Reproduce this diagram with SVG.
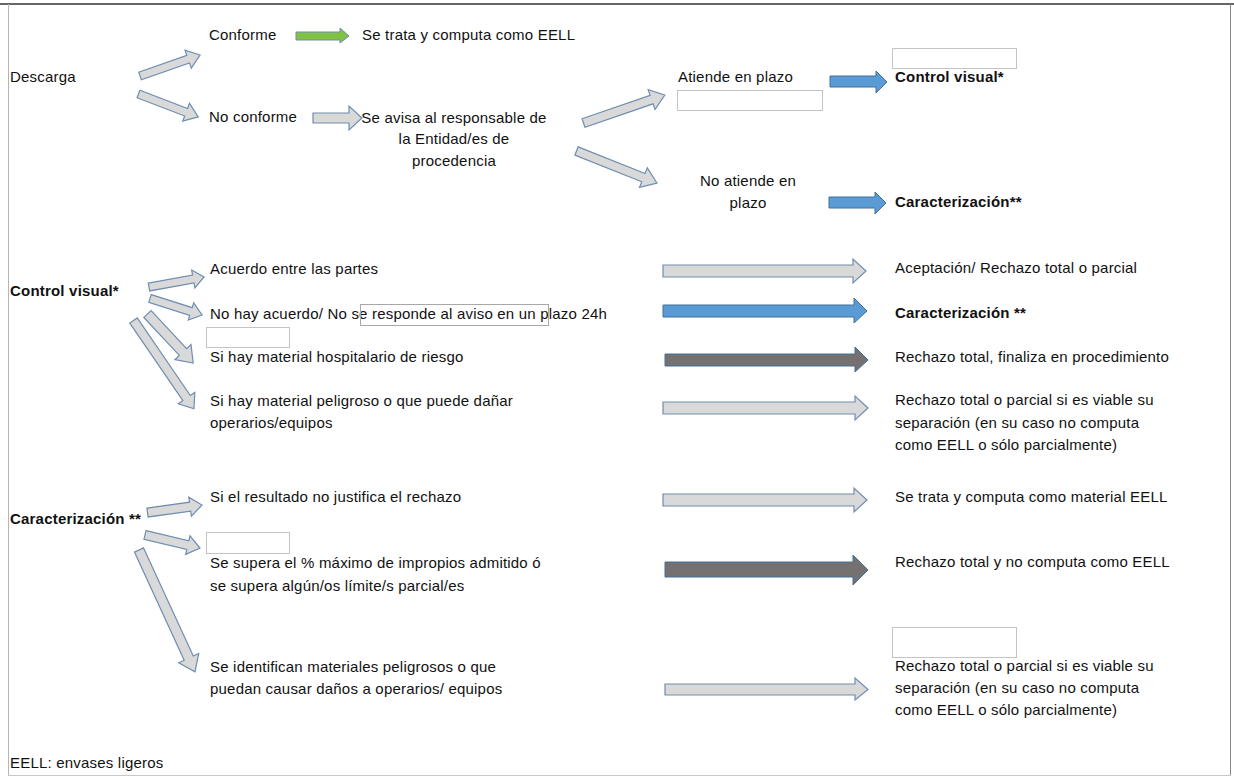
<svg xmlns="http://www.w3.org/2000/svg" width="1234" height="776" viewBox="0 0 1234 776">
<style>
text{font-family:"Liberation Sans",Arial,sans-serif;font-size:15px;letter-spacing:0.2px;fill:#111}
.b{font-weight:bold}
.m{text-anchor:middle}
.box{fill:#fff;stroke:#c4c4c4;stroke-width:1}
.g{fill:#d9d9d9;stroke:#6f8db0;stroke-width:1.2}
.bl{fill:#5b9bd5;stroke:#41719c;stroke-width:1}
.dk{fill:#767171;stroke:#41719c;stroke-width:1}
.gr{fill:#80c342;stroke:#6f8db0;stroke-width:1}
</style>
<rect x="0" y="0" width="1234" height="776" fill="#fff"/>
<g id="frame" fill="none">
<line x1="0" y1="4" x2="1234" y2="4" stroke="#666" stroke-width="2"/>
<line x1="8.5" y1="4" x2="8.5" y2="776" stroke="#b5b5b5" stroke-width="1"/>
<line x1="1230.5" y1="4" x2="1230.5" y2="776" stroke="#888" stroke-width="1"/>
<line x1="8" y1="775.5" x2="1231" y2="775.5" stroke="#c8c8c8" stroke-width="1"/>
</g>
<g id="connectors">
<polygon class="g" transform="translate(140,76) rotate(-19.3)" points="0,-4 51,-4 51,-9.5 63.6,0 51,9.5 51,4 0,4"/>
<polygon class="g" transform="translate(138.5,94) rotate(21)" points="0,-4 51,-4 51,-9.5 64,0 51,9.5 51,4 0,4"/>
<polygon class="gr" points="296,32 340,32 340,28 349,36 340,43 340,40 296,40"/>
<polygon class="g" points="313,113 349,113 349,106 362,118 349,130 349,123 313,123"/>
<polygon class="g" transform="translate(583.5,123) rotate(-19)" points="0,-4.5 72,-4.5 72,-10.5 86,0 72,10.5 72,4.5 0,4.5"/>
<polygon class="g" transform="translate(576.5,151) rotate(21.7)" points="0,-4.5 72,-4.5 72,-10.5 86.6,0 72,10.5 72,4.5 0,4.5"/>
<polygon class="bl" points="830,76 876,76 876,71 887,82 876,93 876,87 830,87"/>
<polygon class="bl" points="829,197 875,197 875,192 886,203 875,214 875,208 829,208"/>
<polygon class="g" transform="translate(149,287) rotate(-10.3)" points="0,-4 45,-4 45,-9 56,0 45,9 45,4 0,4"/>
<polygon class="g" transform="translate(150,298.5) rotate(17.6)" points="0,-4 43,-4 43,-9 54.6,0 43,9 43,4 0,4"/>
<polygon class="g" transform="translate(147.5,314) rotate(47)" points="0,-5 52,-5 52,-11 67,0 52,11 52,5 0,5"/>
<polygon class="g" transform="translate(133.5,320.5) rotate(55.6)" points="0,-4.5 94,-4.5 94,-10 107,0 94,10 94,4.5 0,4.5"/>
<polygon class="g" points="663,265 853,265 853,259 866,271 853,283 853,277 663,277"/>
<polygon class="bl" points="663,305 854,305 854,298 867,311 854,323 854,317 663,317"/>
<polygon class="dk" points="665,354 855,354 855,347 868,360 855,372 855,366 665,366"/>
<polygon class="g" points="663,402 855,402 855,396 868,408 855,420 855,414 663,414"/>
<polygon class="g" transform="translate(147.5,512.5) rotate(-7.8)" points="0,-4.5 43,-4.5 43,-9.5 55,0 43,9.5 43,4.5 0,4.5"/>
<polygon class="g" transform="translate(145,535) rotate(13.3)" points="0,-4.5 44,-4.5 44,-9.5 56.5,0 44,9.5 44,4.5 0,4.5"/>
<polygon class="g" transform="translate(139,550) rotate(65.3)" points="0,-5 119,-5 119,-11 134,0 119,11 119,5 0,5"/>
<polygon class="g" points="663,494 854,494 854,488 867,500 854,512 854,506 663,506"/>
<polygon class="dk" points="665,562 853,562 853,555 868,570 853,585 853,577 665,577"/>
<polygon class="g" points="665,684 855,684 855,678 868,689.5 855,700 855,695 665,695"/>
</g>
<g id="n-descarga"><text x="10" y="82">Descarga</text></g>
<g id="n-conforme"><text x="209" y="40">Conforme</text></g>
<g id="n-setrata"><text x="362" y="40">Se trata y computa como EELL</text></g>
<g id="n-noconforme"><text x="209" y="122">No conforme</text></g>
<g id="n-seavisa"><text class="m" x="454" y="123">Se avisa al responsable de</text><text class="m" x="454" y="144">la Entidad/es de</text><text class="m" x="454" y="166">procedencia</text></g>
<g id="n-atiende"><text x="678" y="82">Atiende en plazo</text><rect class="box" x="677.5" y="90.5" width="145" height="20"/></g>
<g id="n-noatiende"><text class="m" x="748" y="186">No atiende en</text><text class="m" x="748" y="208">plazo</text></g>
<g id="n-cv-top"><rect class="box" x="892.5" y="48.5" width="124" height="20"/><text class="b" x="895" y="82">Control visual*</text></g>
<g id="n-car-top"><text class="b" x="895" y="207">Caracterización**</text></g>
<g id="n-cv"><text class="b" x="10" y="296">Control visual*</text></g>
<g id="n-acuerdo"><text x="210" y="274">Acuerdo entre las partes</text></g>
<g id="n-noacuerdo"><text x="210" y="319">No hay acuerdo/ No se responde al aviso en un plazo 24h</text><rect x="360.5" y="304.5" width="188" height="21" fill="none" stroke="#a8a8a8" stroke-width="1"/></g>
<g id="n-hosp"><rect class="box" x="206.5" y="327.5" width="83" height="20"/><text x="210" y="362">Si hay material hospitalario de riesgo</text></g>
<g id="n-pelig"><text x="210" y="406">Si hay material peligroso o que puede dañar</text><text x="210" y="428">operarios/equipos</text></g>
<g id="n-acept"><text x="895" y="273">Aceptación/ Rechazo total o parcial</text></g>
<g id="n-car2"><text class="b" x="895" y="318">Caracterización **</text></g>
<g id="n-rech1"><text x="895" y="362">Rechazo total, finaliza en procedimiento</text></g>
<g id="n-rech2"><text x="895" y="405">Rechazo total o parcial si es viable su</text><text x="895" y="428">separación (en su caso no computa</text><text x="895" y="450">como EELL o sólo parcialmente)</text></g>
<g id="n-car"><text class="b" x="10" y="524">Caracterización **</text></g>
<g id="n-result"><text x="210" y="502">Si el resultado no justifica el rechazo</text></g>
<g id="n-supera"><rect class="box" x="206.5" y="532.5" width="83" height="21"/><text x="210" y="568">Se supera el % máximo de impropios admitido ó</text><text x="210" y="591">se supera algún/os límite/s parcial/es</text></g>
<g id="n-identif"><text x="210" y="672">Se identifican materiales peligrosos o que</text><text x="210" y="694">puedan causar daños a operarios/ equipos</text></g>
<g id="n-setrata2"><text x="895" y="502">Se trata y computa como material EELL</text></g>
<g id="n-rech3"><text x="895" y="567">Rechazo total y no computa como EELL</text></g>
<g id="n-rech4"><rect class="box" x="892.5" y="627.5" width="124" height="30"/><text x="895" y="671">Rechazo total o parcial si es viable su</text><text x="895" y="693">separación (en su caso no computa</text><text x="895" y="715">como EELL o sólo parcialmente)</text></g>
<g id="n-legend"><text x="10" y="768">EELL: envases ligeros</text></g>
</svg>
